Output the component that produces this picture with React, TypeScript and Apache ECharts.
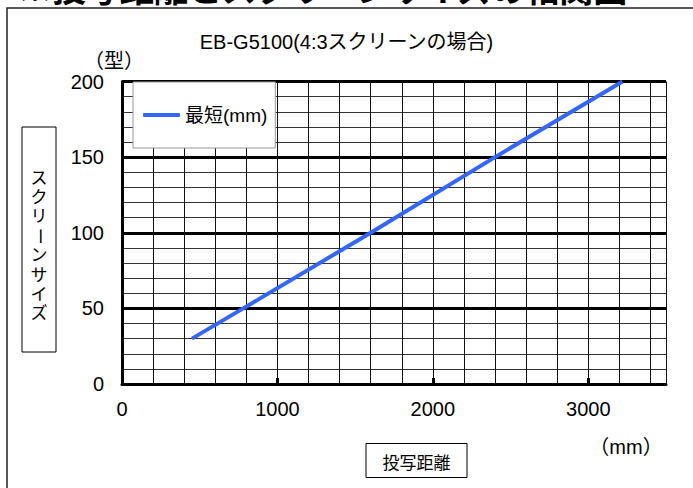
import React, { useEffect, useRef } from "react";
import * as echarts from "echarts";

const FONT = "'Liberation Sans', 'Noto Sans CJK JP', sans-serif";
const CJK = "'Noto Sans CJK JP', 'Liberation Sans', sans-serif";

const pageTitle = "※投写距離とスクリーンサイズの相関図";
const chartTitle = "EB-G5100(4:3スクリーンの場合)";
const seriesName = "最短(mm)";
const yAxisName = "スクリーンサイズ";
const xAxisName = "投写距離";
const yUnit = "（型）";
const xUnit = "（mm）";

const throwDistance = [450, 780, 1600, 2400, 3220];
const screenSize = [30, 50, 100, 150, 200];

const xLabelValues = [0, 1000, 2000, 3000];
const xTickValues = [1000, 2000, 3000];

export default function App() {
  const ref = useRef<HTMLDivElement>(null);

  useEffect(() => {
    document.body.style.margin = "0";
    if (!ref.current) return;
    const chart = echarts.init(ref.current, null, { renderer: "svg" });

    const data = throwDistance.map((x, i) => [x, screenSize[i]]);

    const yChars = yAxisName.split("");
    const yCharEls = yChars.map((ch, i) => ({
      type: "text",
      x: 39,
      y: 178 + i * 19.4,
      rotation: ch === "ー" ? -Math.PI / 2 : 0,
      style: {
        text: ch,
        fontSize: 17,
        lineHeight: 18,
        fontFamily: FONT,
        fill: "#000",
        align: "center",
        verticalAlign: "middle",
      },
    }));

    chart.setOption({
      animation: false,
      backgroundColor: "#fff",
      title: {
        text: chartTitle,
        left: "center",
        top: 32,
        padding: 0,
        textStyle: {
          fontSize: 20,
          fontWeight: "normal",
          color: "#000",
          fontFamily: FONT,
        },
      },
      legend: {
        data: [{ name: seriesName, icon: "roundRect" }],
        left: 133,
        top: 82,
        orient: "vertical",
        itemWidth: 37,
        itemHeight: 4,
        padding: [23, 8, 23, 10],
        backgroundColor: "#fff",
        borderColor: "#999",
        borderWidth: 1,
        itemStyle: { color: "#3366ff", borderWidth: 0 },
        textStyle: { fontSize: 19, color: "#000", fontFamily: FONT, lineHeight: 20 },
      },
      grid: { left: 122, right: 27, top: 81.5, bottom: 104, containLabel: false },
      xAxis: [
        {
          type: "value",
          min: 0,
          max: 3500,
          interval: 200,
          axisLine: { show: false },
          axisTick: { show: false },
          axisLabel: { show: false },
          splitLine: { show: true, lineStyle: { color: "#111", width: 1 } },
        },
        {
          type: "value",
          min: 0,
          max: 3500,
          interval: 1000,
          position: "bottom",
          axisLine: { show: true, onZero: false, lineStyle: { color: "#000", width: 3 } },
          axisTick: {
            show: true,
            inside: true,
            length: 6,
            customValues: xTickValues,
            lineStyle: { color: "#000", width: 3 },
          },
          axisLabel: {
            show: true,
            customValues: xLabelValues,
            formatter: (v: number) => (v % 1000 === 0 ? String(v) : ""),
            fontSize: 20,
            color: "#000",
            fontFamily: FONT,
            margin: 15,
          },
          splitLine: { show: false },
        },
      ],
      yAxis: [
        {
          type: "value",
          min: 0,
          max: 200,
          interval: 10,
          axisLine: { show: false },
          axisTick: { show: false },
          axisLabel: { show: false },
          splitLine: { show: true, lineStyle: { color: "#333", width: 1 } },
        },
        {
          type: "value",
          min: 0,
          max: 200,
          interval: 50,
          position: "left",
          axisLine: { show: true, onZero: false, lineStyle: { color: "#000", width: 3 } },
          axisTick: { show: false },
          axisLabel: {
            fontSize: 20,
            color: "#000",
            fontFamily: FONT,
            margin: 18,
          },
          splitLine: { show: true, lineStyle: { color: "#000", width: 3 } },
        },
      ],
      series: [
        {
          name: seriesName,
          type: "line",
          xAxisIndex: 0,
          yAxisIndex: 0,
          data,
          symbol: "none",
          showSymbol: false,
          lineStyle: { color: "#3366ff", width: 4 },
          itemStyle: { color: "#3366ff" },
          z: 5,
        },
      ],
      graphic: [
        {
          type: "rect",
          shape: { x: 7, y: 8, width: 800, height: 600 },
          style: { fill: "none", stroke: "#222", lineWidth: 1.5 },
          silent: true,
        },
        {
          type: "text",
          x: 18,
          y: -13,
          style: {
            text: pageTitle,
            fontSize: 34,
            fontWeight: "bold",
            fontFamily: CJK,
            fill: "#000",
            align: "left",
            verticalAlign: "middle",
          },
        },
        {
          type: "text",
          x: 114,
          y: 59,
          style: {
            text: yUnit,
            fontSize: 20,
            fontFamily: CJK,
            fill: "#000",
            align: "center",
            verticalAlign: "middle",
          },
        },
        {
          type: "text",
          x: 626,
          y: 447,
          style: {
            text: xUnit,
            fontSize: 20,
            fontFamily: FONT,
            fill: "#000",
            align: "center",
            verticalAlign: "middle",
          },
        },
        {
          type: "rect",
          shape: { x: 22, y: 127, width: 34, height: 225 },
          style: { fill: "#fff", stroke: "#000", lineWidth: 1 },
        },
        ...yCharEls,
        {
          type: "rect",
          shape: { x: 366, y: 443.5, width: 101, height: 34 },
          style: { fill: "#fff", stroke: "#000", lineWidth: 1 },
        },
        {
          type: "text",
          x: 416.5,
          y: 461,
          style: {
            text: xAxisName,
            fontSize: 17,
            fontFamily: CJK,
            fill: "#000",
            align: "center",
            verticalAlign: "middle",
          },
        },
      ],
    });

    return () => chart.dispose();
  }, []);

  return <div ref={ref} style={{ width: 693, height: 488 }} />;
}
